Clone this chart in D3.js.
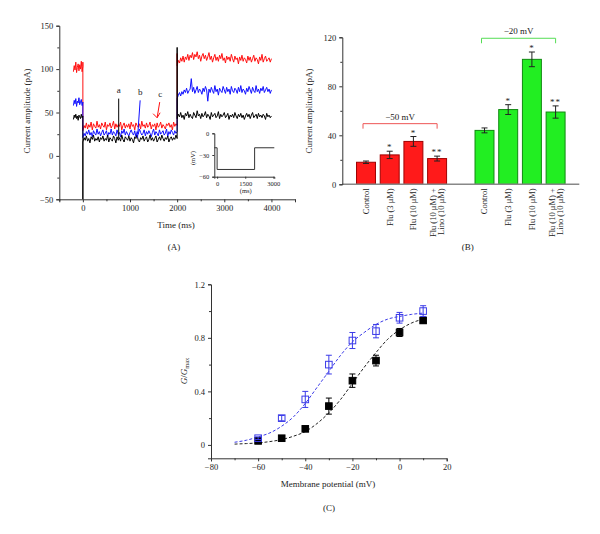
<!DOCTYPE html>
<html>
<head>
<meta charset="utf-8">
<script src="https://cdn.jsdelivr.net/npm/d3@7"></script>
<style>
    body { margin: 0; background: #fff; }
    text { font-family: "Liberation Serif", "DejaVu Serif", serif; fill: #222; }
    .axis path, .axis line { stroke: #333; }
    .axis text { font-family: "Liberation Serif", serif; fill: #222; }
</style>
</head>
<body>
<svg id="fig" width="600" height="534"></svg>
<script>
// ---- panel A: current traces (pA) ----
// pre: -200..0 ms, step: 0..2000 ms, post: 2000..4000 ms (evenly sampled)
const blackPre = [42, 47, 44, 48, 43, 46, 41, 47, 45, 43, 48, 44, 46];
const bluePre = [58, 64, 60, 66, 57, 63, 61, 67, 59, 62, 65, 58, 62];
const redPre = [97, 104, 99, 108, 96, 102, 106, 98, 105, 100, 109, 97, 103];

const blackStep = [16, 21, 18, 23, 17, 20, 15, 22, 19, 24, 17, 20, 18, 22, 16, 21, 19, 23, 17, 20,
    18, 24, 16, 21, 19, 17, 23, 20, 15, 22, 18, 21, 17, 24, 19, 16, 22, 20, 18, 23,
    17, 21, 19, 15, 22, 20, 24, 18, 16, 21, 19, 23, 17, 20, 22, 16, 19, 24, 18, 21,
    17, 20, 23, 16, 19, 22, 18, 24, 20, 17, 21, 19, 23, 16, 20, 22, 18, 21, 19, 24, 20];
const blueStep = [21, 26, 23, 28, 25, 30, 24, 27, 22, 29, 26, 24, 31, 25, 28, 23, 27, 30, 24, 26,
    29, 22, 27, 25, 31, 24, 28, 26, 23, 30, 25, 27, 22, 29, 26, 31, 24, 28, 25, 23,
    27, 30, 26, 24, 29, 22, 28, 25, 31, 27, 24, 26, 30, 23, 28, 25, 29, 26, 22, 27,
    31, 24, 28, 26, 23, 30, 25, 27, 29, 24, 26, 31, 22, 28, 25, 30, 27, 24, 29, 26, 28];
const redStep = [29, 35, 32, 38, 31, 36, 33, 39, 30, 37, 34, 32, 40, 33, 36, 31, 38, 35, 33, 39,
    30, 36, 34, 38, 32, 35, 40, 31, 37, 33, 36, 34, 39, 30, 35, 38, 32, 36, 33, 37,
    31, 39, 34, 36, 30, 38, 35, 33, 37, 31, 40, 34, 36, 32, 38, 33, 35, 39, 31, 36,
    34, 37, 30, 38, 33, 35, 39, 32, 36, 34, 31, 37, 35, 38, 33, 36, 30, 39, 34, 37, 35];

const blackPost = [43, 48, 45, 50, 44, 47, 42, 49, 46, 51, 44, 48, 45, 43, 50, 47, 44, 52, 46, 48,
    43, 49, 45, 47, 51, 44, 48, 46, 42, 50, 45, 47, 49, 44, 46, 51, 43, 48, 45, 47,
    50, 44, 46, 49, 42, 47, 45, 48, 44, 50, 46, 43, 48, 45, 49, 44, 47, 42, 46, 49,
    45, 48, 43, 47, 50, 44, 46, 48, 43, 49, 45, 47, 44, 48, 46, 42, 49, 45, 47, 44, 46];
const bluePost = [66, 70, 73, 69, 74, 71, 76, 73, 78, 72, 75, 77, 89, 74, 79, 72, 76, 80, 73, 77,
    75, 71, 78, 74, 80, 76, 63, 77, 73, 79, 75, 72, 81, 74, 77, 70, 78, 75, 73, 80,
    76, 72, 79, 74, 77, 71, 80, 75, 73, 78, 76, 72, 79, 74, 81, 73, 77, 75, 71, 78,
    74, 80, 76, 72, 79, 75, 73, 81, 74, 77, 72, 78, 75, 80, 73, 76, 79, 74, 77, 72, 76];
const redPost = [104, 110, 107, 113, 109, 115, 108, 114, 111, 117, 110, 116, 113, 119, 111, 117, 114, 120, 112, 116,
    109, 115, 118, 112, 116, 110, 114, 119, 111, 115, 108, 113, 117, 110, 114, 109, 116, 112, 118, 110,
    113, 107, 115, 111, 114, 109, 117, 112, 108, 115, 111, 113, 106, 114, 110, 116, 109, 113, 111, 107,
    115, 110, 114, 108, 112, 116, 109, 113, 111, 106, 114, 110, 117, 108, 112, 115, 109, 111, 113, 108, 112];

// capacitive spikes at the voltage steps [time, pA]
const blackSpikes = [[0, -50], [2000, 125]];
const redSpikes = [[0, 108], [2000, 118]];

// inset voltage protocol
const protocolTimes = [-150, 0, 0, 2000, 2000, 3050];
const protocolVolts = [-20, -20, -50, -50, -20, -20];

// ---- panel B: mean current amplitude (pA) ----
const barLabels = ["Control", "Flu (3 \u03bcM)", "Flu (10 \u03bcM)", "Flu (10 \u03bcM) +|Lino (10 \u03bcM)"];
const amp50 = [18, 24, 35, 21];
const err50 = [1, 3, 4, 2];
const amp20 = [44, 61, 102, 59];
const err20 = [2, 4, 6, 5];
const stars = ["", "*", "*", "**"];

// ---- panel C: activation curves ----
const volts = [-60, -50, -40, -30, -20, -10, 0, 10];
const gControl = [0.03, 0.05, 0.12, 0.29, 0.48, 0.63, 0.84, 0.93];
const gControlErr = [0.01, 0.01, 0.02, 0.06, 0.05, 0.04, 0.03, 0.02];
const gFlu = [0.05, 0.20, 0.34, 0.60, 0.78, 0.85, 0.95, 1.00];
const gFluErr = [0.01, 0.02, 0.06, 0.07, 0.06, 0.05, 0.04, 0.04];
const fitVolts = d3.range(-70, 11, 5);
const fitControl = [0.006, 0.01, 0.015, 0.025, 0.04, 0.065, 0.10, 0.16, 0.24, 0.34, 0.46, 0.58, 0.69, 0.79, 0.86, 0.91, 0.94];
const fitFlu = [0.02, 0.035, 0.06, 0.09, 0.14, 0.21, 0.31, 0.43, 0.55, 0.67, 0.77, 0.84, 0.90, 0.94, 0.96, 0.975, 0.985];

const svg = d3.select("#fig");
const fmt = d3.format("~g");

const styleAxis = (g, size) => {
    g.attr("class", "axis");
    g.selectAll("text").style("font-size", size + "px");
    g.select(".domain").attr("stroke-width", 1);
};

const yTitle = (x, y, txt, size = 9) =>
    svg.append("text")
        .attr("transform", `translate(${x},${y}) rotate(-90)`)
        .attr("text-anchor", "middle")
        .attr("dy", "0.35em")
        .style("font-size", size + "px")
        .text(txt);

const plainText = (x, y, txt, size = 9) =>
    svg.append("text")
        .attr("x", x)
        .attr("y", y)
        .attr("text-anchor", "middle")
        .attr("dy", "0.35em")
        .style("font-size", size + "px")
        .text(txt);

// spread samples evenly over [t0, t1]
const sampled = (vals, t0, t1) => vals.map((v, i) => [t0 + (i * (t1 - t0)) / (vals.length - 1), v]);

// ================= panel A =================
const drawPanelA = () => {
    const x = d3.scaleLinear().domain([-500, 4500]).range([59.3, 295]);
    const y = d3.scaleLinear().domain([-50, 150]).range([199.3, 25.7]);
    const g = svg.append("g");

    const buildTrace = (pre, step, post, spikes) => {
        let pts = sampled(pre, -200, 0);
        spikes.filter((s) => s[0] === 0).forEach((s) => pts.push(s));
        pts = pts.concat(sampled(step, 0, 2000));
        spikes.filter((s) => s[0] === 2000).forEach((s) => pts.push(s));
        pts = pts.concat(sampled(post, 2000, 4000));
        return pts;
    };

    const traces = [
        { color: "#ff1010", pts: buildTrace(redPre, redStep, redPost, redSpikes) },
        { color: "#1010ff", pts: buildTrace(bluePre, blueStep, bluePost, []) },
        { color: "#000000", pts: buildTrace(blackPre, blackStep, blackPost, blackSpikes) },
    ];
    const line = d3.line().x((d) => x(d[0])).y((d) => y(d[1]));
    traces.forEach((tr) => {
        g.append("path")
            .attr("d", line(tr.pts))
            .attr("fill", "none")
            .attr("stroke", tr.color)
            .attr("stroke-width", 1);
    });

    // annotations a, b, c
    const notes = [
        { label: "a", t: 760, v: 72, line: [[760, 66], [760, 20]], color: "#000" },
        { label: "b", t: 1215, v: 70, line: [[1215, 64], [1160, 21]], color: "#1010ff" },
        { label: "c", t: 1640, v: 68, line: [[1630, 62], [1575, 44]], color: "#ff1010" },
    ];
    notes.forEach((n) => {
        g.append("text")
            .attr("x", x(n.t))
            .attr("y", y(n.v))
            .attr("text-anchor", "middle")
            .style("font-size", "9px")
            .text(n.label);
        g.append("path")
            .attr("d", line(n.line))
            .attr("stroke", n.color)
            .attr("stroke-width", 1)
            .attr("fill", "none");
    });
    // arrow head for c
    const tip = notes[2].line[1];
    const tx = x(tip[0]), ty = y(tip[1]);
    g.append("path")
        .attr("d", `M${tx - 4},${ty - 4} L${tx},${ty} L${tx + 3},${ty - 5}`)
        .attr("stroke", "#ff1010")
        .attr("fill", "none")
        .attr("stroke-width", 1);

    // axes
    const gx = g.append("g").attr("transform", `translate(0,${y(-50)})`)
        .call(d3.axisBottom(x).tickValues([0, 1000, 2000, 3000, 4000]).tickSize(3).tickFormat(fmt));
    styleAxis(gx, 8.5);
    g.append("g").attr("transform", `translate(0,${y(-50)})`)
        .call(d3.axisBottom(x).tickValues([-500, 500, 1500, 2500, 3500, 4500]).tickSize(2).tickFormat(""))
        .call((s) => s.select(".domain").remove())
        .attr("class", "axis");
    const gy = g.append("g").attr("transform", `translate(${x(-500)},0)`)
        .call(d3.axisLeft(y).tickValues([-50, 0, 50, 100, 150]).tickSize(3).tickFormat(fmt));
    styleAxis(gy, 8.5);
    g.append("g").attr("transform", `translate(${x(-500)},0)`)
        .call(d3.axisLeft(y).tickValues([-25, 25, 75, 125]).tickSize(2).tickFormat(""))
        .call((s) => s.select(".domain").remove())
        .attr("class", "axis");

    yTitle(27, 111, "Current amplitude (pA)");
    plainText(176, 225, "Time (ms)");
    plainText(174, 247, "(A)");

    // inset: voltage protocol
    const ix = d3.scaleLinear().domain([-150, 3050]).range([214.3, 274.3]);
    const iy = d3.scaleLinear().domain([-60, 0]).range([176.7, 133.3]);
    g.append("path")
        .attr("d", d3.line().x((d, i) => ix(protocolTimes[i])).y((d) => iy(d))(protocolVolts))
        .attr("fill", "none")
        .attr("stroke", "#333")
        .attr("stroke-width", 1);
    const igx = g.append("g").attr("transform", `translate(0,${iy(-60)})`)
        .call(d3.axisBottom(ix).tickValues([0, 1500, 3000]).tickSize(2).tickFormat(fmt));
    styleAxis(igx, 6.5);
    const igy = g.append("g").attr("transform", `translate(${ix(-150)},0)`)
        .call(d3.axisLeft(iy).tickValues([-60, -30, 0]).tickSize(2).tickFormat(fmt));
    styleAxis(igy, 6.5);
    yTitle(193, 158, "(mV)", 6.5);
    plainText(245.7, 191, "(ms)", 6.5);
};

// ================= panel B =================
const drawPanelB = () => {
    const keys = ["a0", "a1", "a2", "a3", "gap", "b0", "b1", "b2", "b3"];
    const x = d3.scaleBand().domain(keys).range([354.15, 567.45]).paddingInner(0.2).paddingOuter(0.1);
    const y = d3.scaleLinear().domain([0, 120]).range([184.3, 37.3]);
    const g = svg.append("g");

    const groups = [
        { keys: keys.slice(0, 4), vals: amp50, errs: err50, fill: "#ff1a1a", stroke: "#a00000" },
        { keys: keys.slice(5), vals: amp20, errs: err20, fill: "#22ee22", stroke: "#118811" },
    ];
    groups.forEach((grp) => {
        grp.keys.forEach((k, i) => {
            const v = grp.vals[i], e = grp.errs[i];
            const cx = x(k) + x.bandwidth() / 2;
            g.append("rect")
                .attr("x", x(k))
                .attr("y", y(v))
                .attr("width", x.bandwidth())
                .attr("height", y(0) - y(v))
                .attr("fill", grp.fill)
                .attr("stroke", grp.stroke)
                .attr("stroke-width", 1);
            g.append("path")
                .attr("d", `M${cx},${y(v - e)}V${y(v + e)}M${cx - 3},${y(v - e)}H${cx + 3}M${cx - 3},${y(v + e)}H${cx + 3}`)
                .attr("stroke", "#222")
                .attr("stroke-width", 1)
                .attr("fill", "none");
            if (stars[i]) {
                g.append("text")
                    .attr("x", cx)
                    .attr("y", y(v + e) - 1)
                    .attr("text-anchor", "middle")
                    .attr("letter-spacing", "1px")
                    .style("font-size", "9px")
                    .text(stars[i]);
            }
            // rotated category label
            const parts = barLabels[i].split("|");
            parts.forEach((p, j) => {
                const off = parts.length === 1 ? 0 : (j === 0 ? -4 : 4);
                g.append("text")
                    .attr("transform", `translate(${cx + off},${y(0) + 4}) rotate(-90)`)
                    .attr("text-anchor", "end")
                    .attr("dy", "0.35em")
                    .style("font-size", "8.5px")
                    .text(p);
            });
        });
    });

    // baseline and y axis
    g.append("line")
        .attr("x1", 342.3).attr("x2", 579.3)
        .attr("y1", y(0)).attr("y2", y(0))
        .attr("stroke", "#888")
        .attr("stroke-width", 1.5);
    const gy = g.append("g").attr("transform", "translate(342.3,0)")
        .call(d3.axisLeft(y).tickValues([0, 40, 80, 120]).tickSize(3));
    styleAxis(gy, 8.5);
    gy.selectAll("path, line").attr("stroke", "#666");
    g.append("g").attr("transform", "translate(342.3,0)")
        .call(d3.axisLeft(y).tickValues([20, 60, 100]).tickSize(2).tickFormat(""))
        .call((s) => s.select(".domain").remove())
        .attr("class", "axis")
        .selectAll("line").attr("stroke", "#666");

    // brackets
    const bracket = (k0, k1, yv, txt, color) => {
        const x0 = x(k0) + x.bandwidth() / 2 - 3, x1 = x(k1) + x.bandwidth() / 2;
        const yy = y(yv);
        g.append("path")
            .attr("d", `M${x0},${yy + 5}V${yy}H${x1}V${yy + 5}`)
            .attr("fill", "none")
            .attr("stroke", color)
            .attr("stroke-width", 1);
        g.append("text")
            .attr("x", (x0 + x1) / 2)
            .attr("y", yy - 4)
            .attr("text-anchor", "middle")
            .style("font-size", "9px")
            .text(txt);
    };
    bracket("a0", "a3", 49.5, "\u221250 mV", "#ee5555");
    bracket("b0", "b3", 119.2, "\u221220 mV", "#55dd55");

    yTitle(309, 111, "Current amplitude (pA)");
    plainText(467.7, 247, "(B)");
};

// ================= panel C =================
const drawPanelC = () => {
    const x = d3.scaleLinear().domain([-80, 20]).range([211, 446.7]);
    const y = d3.scaleLinear().domain([-0.1, 1.2]).range([458.3, 284.3]);
    const g = svg.append("g");

    const fitLine = d3.line().curve(d3.curveMonotoneX).x((d, i) => x(fitVolts[i])).y((d) => y(d));
    g.append("path").attr("d", fitLine(fitFlu))
        .attr("fill", "none").attr("stroke", "#3a3ae8").attr("stroke-width", 1).attr("stroke-dasharray", "3,2");
    g.append("path").attr("d", fitLine(fitControl))
        .attr("fill", "none").attr("stroke", "#222").attr("stroke-width", 1).attr("stroke-dasharray", "3,2");

    const series = [
        { vals: gControl, errs: gControlErr, fill: "#000", stroke: "#000", err: "#000" },
        { vals: gFlu, errs: gFluErr, fill: "none", stroke: "#3a3ae8", err: "#3a3ae8" },
    ];
    series.forEach((s) => {
        volts.forEach((v, i) => {
            const cx = x(v), val = s.vals[i], e = s.errs[i];
            g.append("path")
                .attr("d", `M${cx},${y(val - e)}V${y(val + e)}M${cx - 3},${y(val - e)}H${cx + 3}M${cx - 3},${y(val + e)}H${cx + 3}`)
                .attr("stroke", s.err)
                .attr("stroke-width", 1)
                .attr("fill", "none");
            g.append("rect")
                .attr("x", cx - 3.3)
                .attr("y", y(val) - 3.3)
                .attr("width", 6.6)
                .attr("height", 6.6)
                .attr("fill", s.fill === "none" ? "#fff" : s.fill)
                .attr("fill-opacity", s.fill === "none" ? 0 : 1)
                .attr("stroke", s.stroke)
                .attr("stroke-width", 1);
        });
    });

    const gx = g.append("g").attr("transform", `translate(0,${y(-0.1)})`)
        .call(d3.axisBottom(x).tickValues([-80, -60, -40, -20, 0, 20]).tickSize(3).tickFormat(fmt));
    styleAxis(gx, 8.5);
    g.append("g").attr("transform", `translate(0,${y(-0.1)})`)
        .call(d3.axisBottom(x).tickValues([-70, -50, -30, -10, 10]).tickSize(2).tickFormat(""))
        .call((s) => s.select(".domain").remove())
        .attr("class", "axis");
    const gy = g.append("g").attr("transform", `translate(${x(-80)},0)`)
        .call(d3.axisLeft(y).tickValues([0, 0.4, 0.8, 1.2]).tickSize(3).tickFormat(fmt));
    styleAxis(gy, 8.5);
    g.append("g").attr("transform", `translate(${x(-80)},0)`)
        .call(d3.axisLeft(y).tickValues([0.2, 0.6, 1.0]).tickSize(2).tickFormat(""))
        .call((s) => s.select(".domain").remove())
        .attr("class", "axis");

    const lab = svg.append("text")
        .attr("transform", "translate(184,371) rotate(-90)")
        .attr("text-anchor", "middle")
        .attr("dy", "0.35em")
        .style("font-size", "9px");
    lab.append("tspan").attr("font-style", "italic").text("G");
    lab.append("tspan").text("/");
    lab.append("tspan").attr("font-style", "italic").text("G");
    lab.append("tspan").attr("dy", "2").style("font-size", "6.5px").text("max");

    plainText(328, 484, "Membrane potential (mV)");
    plainText(329, 508, "(C)");
};

drawPanelA();
drawPanelB();
drawPanelC();
</script>
</body>
</html>
